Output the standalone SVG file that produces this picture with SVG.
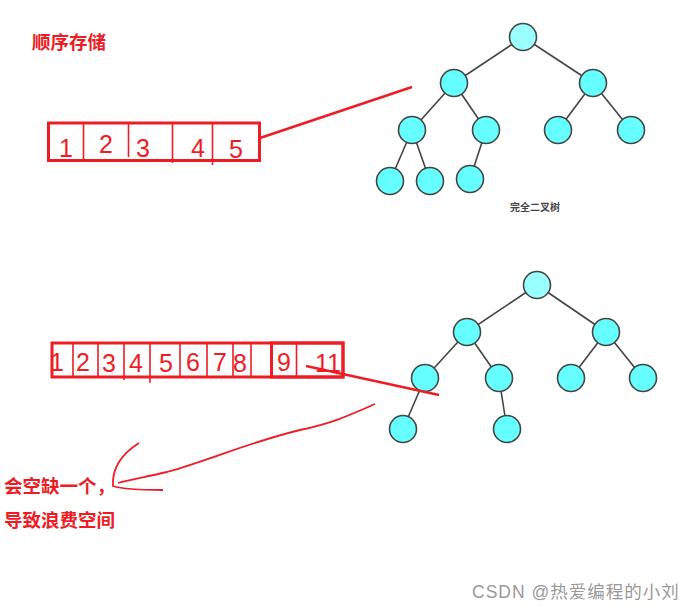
<svg xmlns="http://www.w3.org/2000/svg" width="697" height="613" viewBox="0 0 697 613">
<style>
.edge{stroke:#444;stroke-width:1.6;fill:none}
.node{fill:#66ffff;stroke:#444;stroke-width:1.6}
.root{fill:#99ffff;stroke:#444;stroke-width:1.6}
.red{stroke:#ee1c25;fill:none}
.box{stroke:#ee1c25;stroke-width:3;fill:none}
.div{stroke:#ee1c25;stroke-width:1.6}
.dig{font-family:"Liberation Sans","DejaVu Sans",sans-serif;font-size:25px;fill:#ee1c25;text-anchor:middle}
.lbl{font-family:"Noto Sans CJK SC",sans-serif;font-weight:bold;font-size:18.5px;fill:#ee1c25}
</style>
<rect width="697" height="613" fill="#fff"/>
<text class="lbl" x="32" y="49">顺序存储</text>

<g id="connectors">
<line class="edge" x1="523" y1="37" x2="454" y2="83"/>
<line class="edge" x1="523" y1="37" x2="593" y2="83"/>
<line class="edge" x1="454" y1="83" x2="412" y2="130"/>
<line class="edge" x1="454" y1="83" x2="486" y2="130"/>
<line class="edge" x1="593" y1="83" x2="558" y2="130"/>
<line class="edge" x1="593" y1="83" x2="631" y2="130"/>
<line class="edge" x1="412" y1="130" x2="390" y2="181"/>
<line class="edge" x1="412" y1="130" x2="430" y2="181"/>
<line class="edge" x1="486" y1="130" x2="470" y2="179"/>
<line class="edge" x1="537" y1="285" x2="467" y2="332"/>
<line class="edge" x1="537" y1="285" x2="606" y2="332"/>
<line class="edge" x1="467" y1="332" x2="425" y2="378"/>
<line class="edge" x1="467" y1="332" x2="499" y2="378"/>
<line class="edge" x1="606" y1="332" x2="571" y2="378"/>
<line class="edge" x1="606" y1="332" x2="643" y2="378"/>
<line class="edge" x1="425" y1="378" x2="403" y2="429"/>
<line class="edge" x1="499" y1="378" x2="507" y2="429"/>
</g>

<g id="tree1">
<circle id="t1n1" class="root" cx="523" cy="37" r="13.5"/>
<circle id="t1n2" class="node" cx="454" cy="83" r="13.5"/>
<circle id="t1n3" class="node" cx="593" cy="83" r="13.5"/>
<circle id="t1n4" class="node" cx="412" cy="130" r="13.5"/>
<circle id="t1n5" class="node" cx="486" cy="130" r="13.5"/>
<circle id="t1n6" class="node" cx="558" cy="130" r="13.5"/>
<circle id="t1n7" class="node" cx="631" cy="130" r="13.5"/>
<circle id="t1n8" class="node" cx="390" cy="181" r="13.5"/>
<circle id="t1n9" class="node" cx="430" cy="181" r="13.5"/>
<circle id="t1n10" class="node" cx="470" cy="179" r="13.5"/>
<text x="535" y="211" text-anchor="middle" font-family="Noto Sans CJK SC,sans-serif" font-weight="bold" font-size="10" fill="#444">完全二叉树</text>
</g>

<g id="tree2">
<circle id="t2n1" class="root" cx="537" cy="285" r="13.5"/>
<circle id="t2n2" class="node" cx="467" cy="332" r="13.5"/>
<circle id="t2n3" class="node" cx="606" cy="332" r="13.5"/>
<circle id="t2n4" class="node" cx="425" cy="378" r="13.5"/>
<circle id="t2n5" class="node" cx="499" cy="378" r="13.5"/>
<circle id="t2n6" class="node" cx="571" cy="378" r="13.5"/>
<circle id="t2n7" class="node" cx="643" cy="378" r="13.5"/>
<circle id="t2n8" class="node" cx="403" cy="429" r="13.5"/>
<circle id="t2n9" class="node" cx="507" cy="429" r="13.5"/>
</g>

<g id="array1">
<rect class="box" x="48.5" y="123" width="211" height="37.5"/>
<line class="div" x1="83.5" y1="123" x2="83.5" y2="160"/>
<line class="div" x1="128.5" y1="123" x2="128.5" y2="157"/>
<line class="div" x1="172.5" y1="123" x2="172.5" y2="163"/>
<line class="div" x1="212.5" y1="123" x2="212.5" y2="165"/>
<text class="dig" x="66" y="157">1</text>
<text class="dig" x="106" y="153">2</text>
<text class="dig" x="143" y="157">3</text>
<text class="dig" x="198" y="157">4</text>
<text class="dig" x="236" y="158">5</text>
</g>
<line class="red" stroke-width="2.5" x1="260" y1="138" x2="412" y2="87"/>

<g id="array2">
<rect class="box" x="52" y="343" width="291" height="34"/>
<rect class="box" x="271.5" y="343" width="71.5" height="34"/>
<line class="div" x1="73" y1="343" x2="73" y2="377"/>
<line class="div" x1="98" y1="343" x2="98" y2="377"/>
<line class="div" x1="124" y1="343" x2="124" y2="380"/>
<line class="div" x1="150" y1="343" x2="150" y2="383"/>
<line class="div" x1="180" y1="343" x2="180" y2="378"/>
<line class="div" x1="207" y1="343" x2="207" y2="377"/>
<line class="div" x1="233" y1="343" x2="233" y2="377"/>
<line class="div" x1="251" y1="343" x2="251" y2="377"/>
<line class="div" x1="296.5" y1="343" x2="296.5" y2="377"/>
<text class="dig" x="57" y="371" font-size="20">1</text>
<text class="dig" x="83" y="371" font-size="20">2</text>
<text class="dig" x="109" y="372" font-size="20">3</text>
<text class="dig" x="136" y="372" font-size="20">4</text>
<text class="dig" x="166" y="372" font-size="20">5</text>
<text class="dig" x="193" y="371" font-size="20">6</text>
<text class="dig" x="220" y="371" font-size="20">7</text>
<text class="dig" x="240" y="372" font-size="20">8</text>
<text class="dig" x="284" y="371" font-size="20">9</text>
<text class="dig" x="328" y="372" font-size="20">11</text>
</g>
<line class="red" stroke-width="2.5" x1="306" y1="366" x2="439" y2="395"/>
<path class="red" stroke-width="1.8" d="M375,404 C350,415 333,423 300,430 C250,442 210,460 167,472 C145,477 130,480 118,483"/>
<path class="red" stroke-width="1.8" d="M139,443 C120,455 112,470 113,486 C125,490 145,490 163,490"/>

<text class="lbl" x="4" y="493">会空缺一个，</text>
<text class="lbl" x="4" y="527">导致浪费空间</text>
<text x="472" y="598" font-family="Liberation Sans,Noto Sans CJK SC,sans-serif" font-size="17.5" letter-spacing="1" fill="#999">CSDN @热爱编程的小刘</text>
</svg>
